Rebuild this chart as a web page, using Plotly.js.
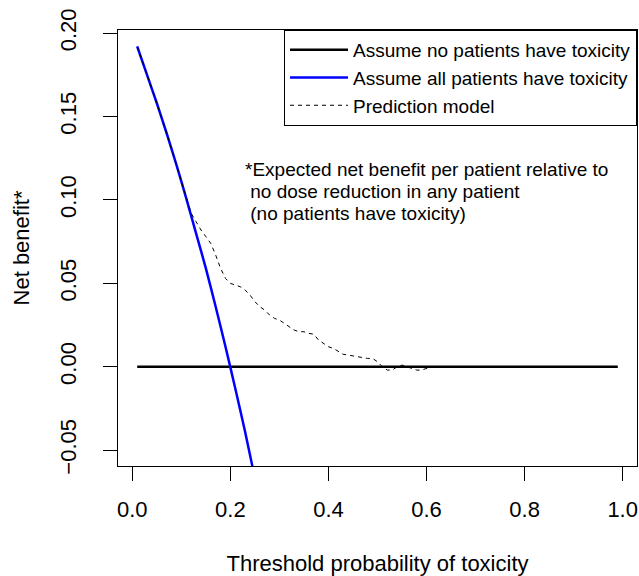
<!DOCTYPE html>
<html>
<head>
<meta charset="utf-8">
<script src="https://cdn.plot.ly/plotly-3.0.1.min.js"></script>
<style>html,body{margin:0;padding:0;background:#fff;}</style>
</head>
<body>
<div id="chart" style="width:639px;height:576px;"></div>
<script>
// Threshold probabilities and net benefit values
const noneThreshold = [0.01, 0.99];
const noneNetBenefit = [0.0, 0.0];

const allThreshold = [0.01, 0.03, 0.05, 0.07, 0.09, 0.11, 0.13, 0.15, 0.17, 0.19, 0.21, 0.23, 0.25, 0.27];
const allNetBenefit = [0.192, 0.175, 0.158, 0.140, 0.121, 0.101, 0.080, 0.059, 0.036, 0.012, -0.013, -0.039, -0.067, -0.096];

const modelThreshold = [0.01, 0.03, 0.05, 0.07, 0.09, 0.11, 0.12, 0.13, 0.14, 0.15, 0.16, 0.17, 0.18, 0.19, 0.20,
  0.21, 0.22, 0.23, 0.24, 0.25, 0.26, 0.27, 0.28, 0.29, 0.30, 0.31, 0.32, 0.33, 0.34, 0.35, 0.36, 0.37, 0.38,
  0.39, 0.40, 0.41, 0.42, 0.43, 0.44, 0.45, 0.46, 0.47, 0.48, 0.49, 0.50, 0.51, 0.52, 0.53, 0.54, 0.55, 0.56,
  0.57, 0.58, 0.59, 0.60, 0.61];
const modelNetBenefit = [0.192, 0.1755, 0.158, 0.140, 0.121, 0.1015, 0.092, 0.087, 0.082, 0.078, 0.074, 0.067, 0.059, 0.053, 0.050,
  0.049, 0.048, 0.046, 0.043, 0.039, 0.036, 0.034, 0.031, 0.029, 0.028, 0.026, 0.024, 0.022, 0.021, 0.021, 0.020, 0.0195, 0.016,
  0.014, 0.012, 0.011, 0.009, 0.0075, 0.007, 0.0065, 0.006, 0.0055, 0.005, 0.005, 0.003, 0.0, -0.002, -0.002, 0.0, 0.001, 0.0,
  -0.001, -0.002, -0.002, -0.001, 0.0];

const seriesNames = ["Assume no patients have toxicity", "Assume all patients have toxicity", "Prediction model"];
const xTickValues = [0, 0.2, 0.4, 0.6, 0.8, 1.0];
const yTickValues = [-0.05, 0, 0.05, 0.10, 0.15, 0.20];
const noteLines = ["*Expected net benefit per patient relative to", "\u00a0no dose reduction in any patient", "\u00a0(no patients have toxicity)"];

const FONT = "Liberation Sans, Arial, Helvetica, sans-serif";

const traces = [
  {x: noneThreshold, y: noneNetBenefit, name: seriesNames[0], type: "scatter", mode: "lines",
   line: {color: "#000000", width: 2.5}},
  {x: allThreshold, y: allNetBenefit, name: seriesNames[1], type: "scatter", mode: "lines",
   line: {color: "#0000ff", width: 2.5, shape: "spline", smoothing: 0.6}},
  {x: modelThreshold, y: modelNetBenefit, name: seriesNames[2], type: "scatter", mode: "lines",
   line: {color: "#000000", width: 1, dash: "4px,4px"}}
];

const noteY = [0.118, 0.105, 0.092];
const annotations = noteLines.map((t, i) => ({
  x: 0.226, y: noteY[i], xref: "x", yref: "y", text: t, showarrow: false,
  xanchor: "left", yanchor: "middle", align: "left",
  font: {family: FONT, size: 19, color: "#000"}
}));

const layout = {
  width: 639, height: 576,
  margin: {l: 118, r: 2, t: 30, b: 110, pad: 0},
  paper_bgcolor: "#ffffff", plot_bgcolor: "#ffffff",
  font: {family: FONT, color: "#000"},
  showlegend: true,
  legend: {
    x: 1, xanchor: "right", y: 1, yanchor: "top",
    bgcolor: "#ffffff", bordercolor: "#000000", borderwidth: 1,
    font: {family: FONT, size: 19, color: "#000"},
    tracegroupgap: 0, itemwidth: 58
  },
  xaxis: {
    range: [-0.0292, 1.0292], tickmode: "array", tickvals: xTickValues, tickformat: ".1f",
    showgrid: false, zeroline: false, showline: true, mirror: true, linecolor: "#000", linewidth: 1,
    ticks: "outside", ticklen: 14, tickwidth: 1, tickcolor: "#000", ticklabelstandoff: 10,
    tickfont: {family: FONT, size: 22, color: "#000"},
    title: {text: "Threshold probability of toxicity", font: {family: FONT, size: 22, color: "#000"}, standoff: 36}
  },
  yaxis: {
    range: [-0.0595, 0.2019], tickmode: "array", tickvals: yTickValues, tickformat: ".2f",
    tickangle: -90,
    showgrid: false, zeroline: false, showline: true, mirror: true, linecolor: "#000", linewidth: 1,
    ticks: "outside", ticklen: 14, tickwidth: 1, tickcolor: "#000", ticklabelstandoff: 18,
    tickfont: {family: FONT, size: 22, color: "#000"},
    title: {text: "Net benefit*", font: {family: FONT, size: 22, color: "#000"}, standoff: 20}
  },
  annotations: annotations
};

Plotly.newPlot("chart", traces, layout, {displayModeBar: false, staticPlot: true});
</script>
</body>
</html>
